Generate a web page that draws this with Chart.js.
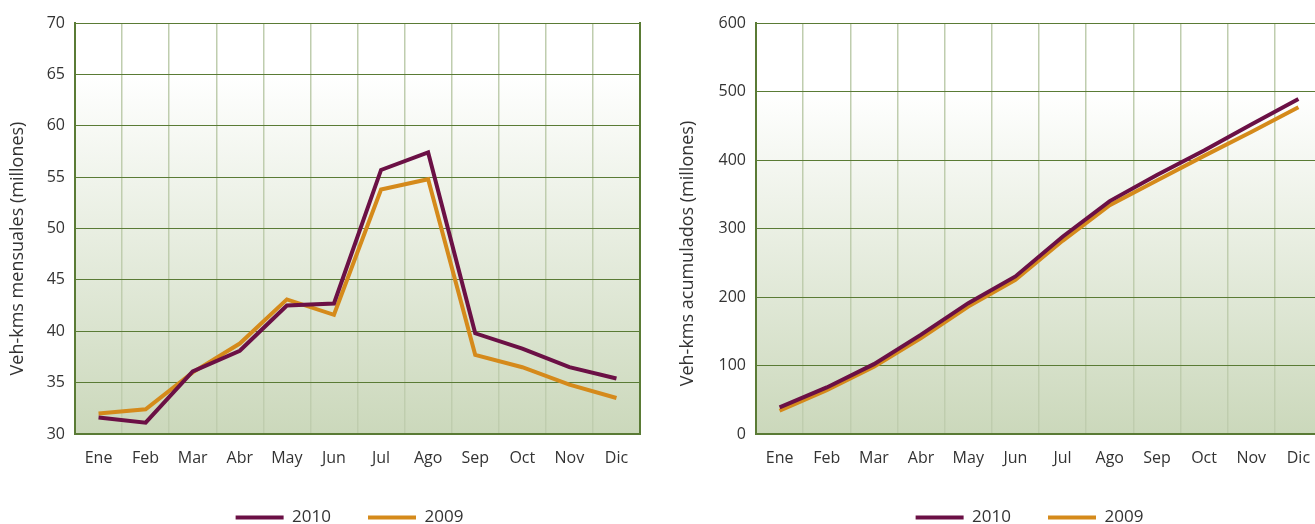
<!DOCTYPE html>
<html lang="es">
<head>
<meta charset="utf-8">
<title>Veh-kms 2009-2010</title>
<script src="https://cdn.jsdelivr.net/npm/chart.js@4/dist/chart.umd.min.js"></script>
<style>
    html, body {
        margin: 0;
        padding: 0;
        background: #ffffff;
        overflow: hidden;
        width: 1315px;
        height: 524px;
    }
    .panel {
        position: absolute;
        top: 0;
        height: 536px;
    }
    #panelMensual { left: 0; width: 696px; }
    #panelAcumulado { left: 670px; width: 716px; }
</style>
</head>
<body>
<div class="panel" id="panelMensual"><canvas id="chartMensual"></canvas></div>
<div class="panel" id="panelAcumulado"><canvas id="chartAcumulado"></canvas></div>

<script>
const months = ['Ene', 'Feb', 'Mar', 'Abr', 'May', 'Jun', 'Jul', 'Ago', 'Sep', 'Oct', 'Nov', 'Dic'];

// Veh-kms por mes (millones)
const monthly2010 = [31.6, 31.1, 36.1, 38.1, 42.5, 42.7, 55.7, 57.4, 39.8, 38.3, 36.5, 35.4];
const monthly2009 = [32.0, 32.4, 36.0, 38.8, 43.1, 41.6, 53.8, 54.8, 37.7, 36.5, 34.8, 33.5];

// Veh-kms acumulados (millones)
const cumulative2010 = [39, 68, 102, 145, 191, 230, 288, 340, 378, 414, 452, 489];
const cumulative2009 = [34, 64, 98, 140, 186, 225, 282, 334, 370, 406, 441, 477];

const FONT = "'Open Sans', 'Noto Sans', sans-serif";
const TEXT = '#333333';
const PURPLE = '#6b1045';
const ORANGE = '#d58a1b';
const GRID_DARK = '#5a7b35';
const GRID_LIGHT = '#bfcdae';

// white top band fading into pale green towards the x axis
const plotBackground = {
    id: 'plotBackground',
    beforeDraw(chart, args, opts) {
        const { ctx, chartArea } = chart;
        const { left, top, width, height } = chartArea;
        const gradient = ctx.createLinearGradient(0, top, 0, top + height);
        gradient.addColorStop(0, '#ffffff');
        gradient.addColorStop(opts.whiteUntil, '#ffffff');
        gradient.addColorStop(1, '#cbd8bb');
        ctx.save();
        ctx.fillStyle = gradient;
        ctx.fillRect(left, top, width, height);
        ctx.restore();
    }
};

// rotated y title, sitting a little below the middle of the axis
const yTitle = {
    id: 'yTitle',
    afterDraw(chart, args, opts) {
        const { ctx, chartArea } = chart;
        const y = (chartArea.top + chartArea.bottom) / 2 + opts.shift;
        ctx.save();
        ctx.translate(opts.x, y);
        ctx.rotate(-Math.PI / 2);
        ctx.fillStyle = TEXT;
        ctx.font = `18px ${FONT}`;
        ctx.textAlign = 'center';
        ctx.textBaseline = 'middle';
        ctx.fillText(opts.text, 0, 0);
        ctx.restore();
    }
};

function makeChart(id, cfg) {
    const ctx = document.querySelector(`#${id}`).getContext('2d');

    return new Chart(ctx, {
        type: 'line',
        data: {
            labels: months,
            datasets: [{
                label: '2010',
                data: cfg.series2010,
                borderColor: PURPLE,
                backgroundColor: PURPLE,
                borderWidth: 4,
                pointRadius: 0,
                tension: 0
            }, {
                label: '2009',
                data: cfg.series2009,
                borderColor: ORANGE,
                backgroundColor: ORANGE,
                borderWidth: 4,
                pointRadius: 0,
                tension: 0
            }]
        },
        plugins: [plotBackground, yTitle],
        options: {
            responsive: true,
            maintainAspectRatio: false,
            animation: false,
            layout: {
                padding: { top: 23, left: 3, right: 0, bottom: 0 }
            },
            plugins: {
                plotBackground: { whiteUntil: cfg.whiteUntil },
                yTitle: { text: cfg.title, x: 18, shift: cfg.titleShift },
                tooltip: { enabled: false },
                legend: {
                    position: 'bottom',
                    labels: {
                        usePointStyle: true,
                        pointStyle: 'line',
                        pointStyleWidth: 48,
                        boxHeight: 17,
                        padding: 37,
                        color: TEXT,
                        font: { family: FONT, size: 17 }
                    }
                }
            },
            scales: {
                x: {
                    offset: true,
                    grid: {
                        offset: true,
                        drawTicks: false,
                        color: GRID_LIGHT,
                        lineWidth: 1.5
                    },
                    border: { color: GRID_DARK, width: 2 },
                    ticks: {
                        color: TEXT,
                        padding: 15,
                        maxRotation: 0,
                        autoSkip: false,
                        font: { family: FONT, size: 16 }
                    },
                    afterFit(scale) {
                        scale.height = 38;
                    }
                },
                y: {
                    min: cfg.min,
                    max: cfg.max,
                    grid: {
                        drawTicks: false,
                        color: GRID_DARK,
                        lineWidth: 1
                    },
                    border: { color: GRID_DARK, width: 2 },
                    ticks: {
                        stepSize: cfg.step,
                        color: TEXT,
                        padding: 10,
                        font: { family: FONT, size: 16 }
                    },
                    afterFit(scale) {
                        scale.width = cfg.yWidth;
                    }
                },
                // right-hand frame of the plot, no ticks of its own
                frame: {
                    type: 'linear',
                    position: 'right',
                    grid: { drawOnChartArea: false, drawTicks: false },
                    border: { color: GRID_DARK, width: 2 },
                    ticks: { display: false },
                    afterFit(scale) {
                        scale.width = cfg.rightWidth;
                    }
                }
            }
        }
    });
}

makeChart('chartMensual', {
    series2010: monthly2010,
    series2009: monthly2009,
    min: 30,
    max: 70,
    step: 5,
    title: 'Veh-kms mensuales (millones)',
    titleShift: 20,
    whiteUntil: 0.125,
    yWidth: 72,
    rightWidth: 56
});

makeChart('chartAcumulado', {
    series2010: cumulative2010,
    series2009: cumulative2009,
    min: 0,
    max: 600,
    step: 100,
    title: 'Veh-kms acumulados (millones)',
    titleShift: 25,
    whiteUntil: 0.167,
    yWidth: 83,
    rightWidth: 64
});
</script>
</body>
</html>
